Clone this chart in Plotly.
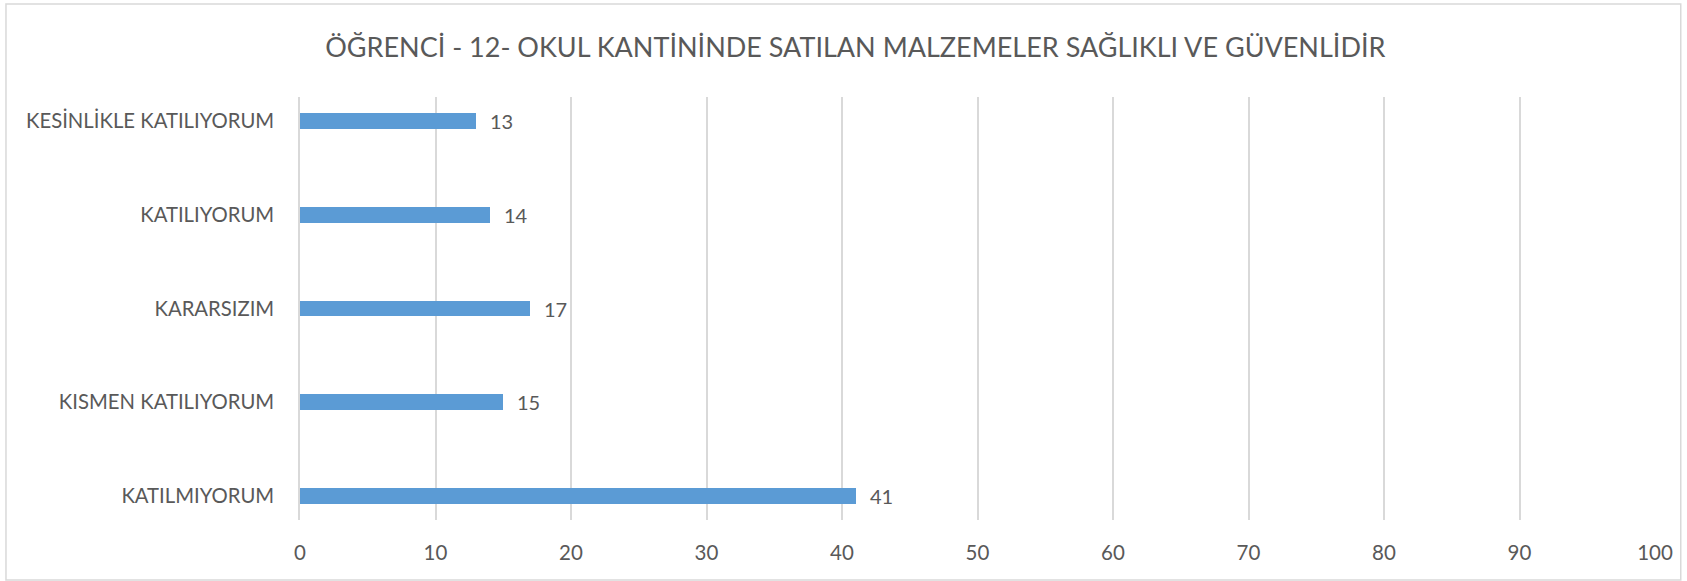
import plotly.graph_objects as go

# survey answers, bottom to top as drawn
answers = ['KATILMIYORUM', 'KISMEN KATILIYORUM', 'KARARSIZIM', 'KATILIYORUM', 'KESİNLİKLE KATILIYORUM']
counts = [41, 15, 17, 14, 13]
x_ticks = [0, 10, 20, 30, 40, 50, 60, 70, 80, 90, 100]

title_text = 'ÖĞRENCİ - 12- OKUL KANTİNİNDE SATILAN MALZEMELER SAĞLIKLI VE GÜVENLİDİR'

text_color = '#595959'
bar_color = '#5B9BD5'
grid_color = '#D9D9D9'
font_name = 'Lato'

fig = go.Figure()

fig.add_trace(go.Bar(
  x=counts,
  y=list(range(len(answers))),
  orientation='h',
  width=0.17,
  marker=dict(color=bar_color, line=dict(width=0)),
  hoverinfo='x+y',
))

# value labels a little to the right of each bar end
for i, v in enumerate(counts):
  fig.add_annotation(
    x=v, y=i, text=str(v),
    xanchor='left', yanchor='middle',
    xshift=12, showarrow=False,
    font=dict(family=font_name, size=20, color=text_color),
  )

# light border around the whole chart area
fig.add_shape(
  type='rect', xref='paper', yref='paper',
  x0=-0.217, x1=1.019, y0=-0.142, y1=1.22,
  line=dict(color=grid_color, width=1.5),
  fillcolor='rgba(0,0,0,0)',
  layer='below',
)

fig.update_layout(
  width=1687,
  height=581,
  margin=dict(l=300, r=32, t=97, b=61, autoexpand=False),
  paper_bgcolor='white',
  plot_bgcolor='white',
  showlegend=False,
  font=dict(family=font_name, color=text_color),
  title=dict(
    text=title_text,
    x=0.507, xanchor='center', xref='container',
    y=1 - 48 / 581, yanchor='middle', yref='container',
    font=dict(family=font_name, size=27, color=text_color),
  ),
  xaxis=dict(
    range=[0, 100],
    tickvals=x_ticks,
    ticktext=[str(t) for t in x_ticks],
    showgrid=True,
    gridcolor=grid_color,
    gridwidth=1.5,
    zeroline=False,
    showline=False,
    ticks='',
    ticklabelstandoff=18,
    automargin=False,
    tickfont=dict(family=font_name, size=20.5, color=text_color),
    fixedrange=True,
  ),
  yaxis=dict(
    range=[-0.256, 4.256],
    tickvals=list(range(len(answers))),
    ticktext=answers,
    showgrid=False,
    zeroline=False,
    showline=True,
    linecolor=grid_color,
    linewidth=1.5,
    ticks='',
    ticklabelstandoff=20,
    automargin=False,
    tickfont=dict(family=font_name, size=20.3, color=text_color),
    fixedrange=True,
  ),
  bargap=0,
)

# drop the page's default body margin so the figure sits at the window's corner
fig.write_html(
  'out.html',
  config={'displayModeBar': False},
  post_script="document.body.style.margin='0';",
)
